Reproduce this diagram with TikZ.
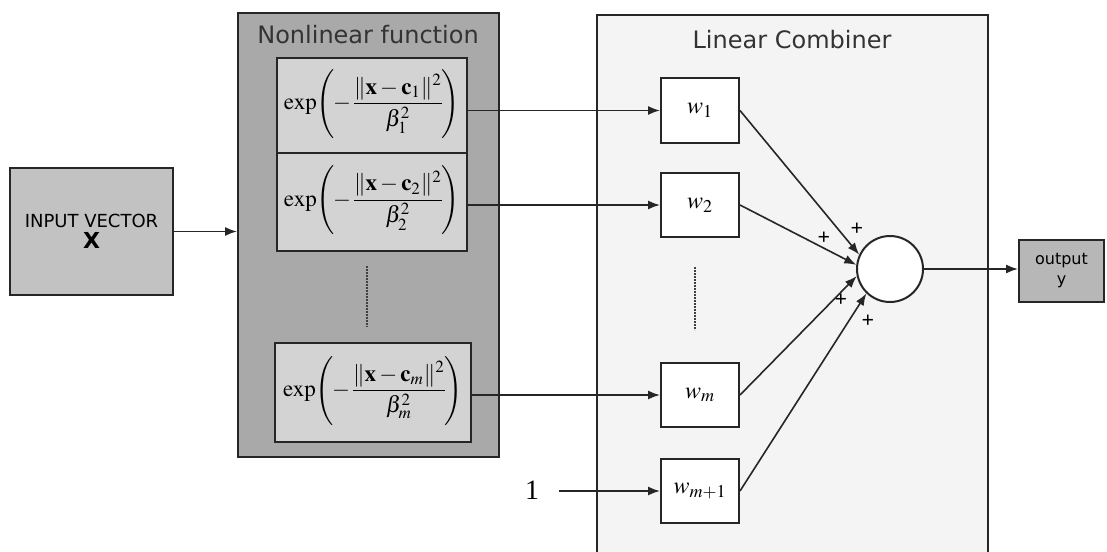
\documentclass[tikz,border=0pt]{standalone}
\usepackage{mathptmx}
\usepackage{fontspec}
\setmainfont{Liberation Serif}
\setsansfont{DejaVu Sans}
\usepackage{xcolor}
\definecolor{InGray}{HTML}{C2C2C2}
\definecolor{NlGray}{HTML}{A9A9A9}
\definecolor{FnGray}{HTML}{D3D3D3}
\definecolor{LcGray}{HTML}{F4F4F4}
\definecolor{OutGray}{HTML}{B7B7B7}
\usetikzlibrary{arrows.meta}

% one Gaussian unit, written out
\newcommand{\gaussfn}[1]{\exp\!\left(\rule[-16pt]{0pt}{36pt}\mkern-4mu-\mkern-2mu
  {\displaystyle\frac{\|\mathbf{x}-\mathbf{c}_{#1}\|^{2}}{\beta_{#1}^{2}}}\mkern-2mu\right)}

\begin{document}
\begin{tikzpicture}[
    x=0.5pt, y=-0.5pt,
    >={Latex[length=6pt,width=4.5pt]},
    blk/.style={draw=black!85,line width=1pt,inner sep=0pt},   % boxes
    boxsz/.style 2 args={minimum width=#1,minimum height=#2},
    fbox/.style={blk,fill=FnGray,font=\fontsize{11.5}{14}\selectfont},
    wbox/.style={blk,fill=white,boxsz={39pt}{32pt},font=\fontsize{12}{14}\selectfont},
    ttl/.style={font=\sffamily\fontsize{12}{14}\selectfont,text=black!80,inner sep=1pt},
    pls/.style={font=\bfseries\fontsize{11}{12}\selectfont,inner sep=0pt},
    wire/.style={line width=0.8pt,draw=black!85},
    dotline/.style={line width=1.2pt,black!75,dash pattern=on 0.8pt off 0.7pt},
  ]
  \clip (0,0) rectangle (1107,551);

  % ---------- input ----------
  \node[blk,fill=InGray,boxsz={81.5pt}{63.5pt},align=center,
        font=\sffamily\fontsize{9}{11.5}\selectfont] (inp) at (91.5,231.5)
        {INPUT VECTOR\\[-1pt]{\fontsize{11}{12}\selectfont\textbf{X}}};

  % ---------- nonlinear function ----------
  \node[blk,fill=NlGray,boxsz={130.5pt}{222pt}] (nl) at (368.5,235) {};
  \node[ttl] (nltitle) at (368,35) {Nonlinear function};
  \node[fbox,boxsz={95pt}{47.5pt}] (f1) at (372,105.5) {$\gaussfn{1}$};
  \node[fbox,boxsz={95pt}{49pt}]   (f2) at (372,202)   {$\gaussfn{2}$};
  \node[fbox,boxsz={98pt}{49.5pt}] (fm) at (373,392.5) {$\gaussfn{m}$};
  \draw[dotline] (367,266) -- (367,327);

  % ---------- linear combiner ----------
  \node[blk,fill=LcGray,boxsz={195.5pt}{277.5pt}] (lc) at (792.5,292.5) {};
  \node[ttl] (lctitle) at (792,40) {Linear Combiner};
  \node[wbox] (w1)  at (700,110.5) {$w_{1}$};
  \node[wbox] (w2)  at (700,205)   {$w_{2}$};
  \node[wbox] (wm)  at (700,395)   {$w_{m}$};
  \node[wbox] (wm1) at (700,491)   {$w_{m+1}$};
  \draw[dotline] (695,267) -- (695,330);

  \node[circle,draw=black!85,line width=1pt,fill=white,minimum size=33pt,inner sep=0pt]
        (sum) at (890,269) {};
  \node[pls] (p1) at (857,229) {+};
  \node[pls] (p2) at (824,238) {+};
  \node[pls] (p3) at (841,300) {+};
  \node[pls] (p4) at (868,321) {+};

  % ---------- bias and output ----------
  \node[inner sep=0pt,font=\fontsize{14}{16}\selectfont] (one) at (532,490) {1};
  \node[blk,fill=OutGray,boxsz={42.5pt}{31pt},align=center,
        font=\sffamily\fontsize{8}{10}\selectfont] (out) at (1061.5,271) {output\\y};

  % ---------- connectors ----------
  \draw[wire,->] (inp.east) -- (inp.east -| nl.west);
  \draw[wire,->] (f1.east |- w1) -- (w1.west);
  \draw[wire,->] (f2.east |- w2) -- (w2.west);
  \draw[wire,->] (fm.east |- wm) -- (wm.west);
  \draw[wire,->,shorten <=10pt] (one.east |- wm1) -- (wm1.west);
  \draw[wire,->] (w1.east)  -- (sum.155);
  \draw[wire,->] (w2.east)  -- (sum.173);
  \draw[wire,->] (wm.east)  -- (sum.192);
  \draw[wire,->] (wm1.east) -- (sum.226);
  \draw[wire,->] (sum.east) -- (sum.east -| out.west);
\end{tikzpicture}
\end{document}
